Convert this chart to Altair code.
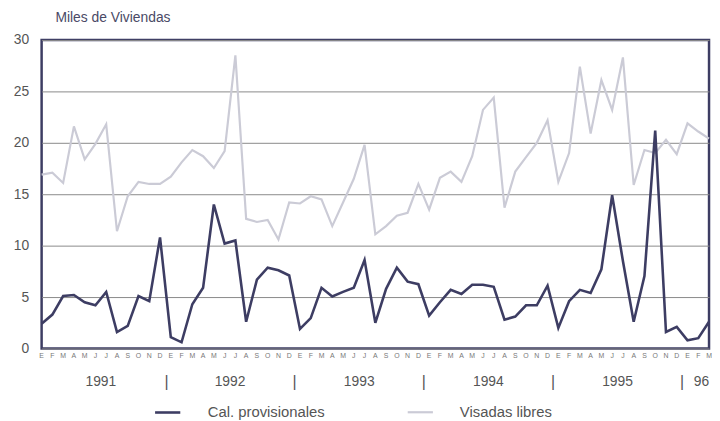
import altair as alt
import pandas as pd

month_letters = ["E", "F", "M", "A", "M", "J", "J", "A", "S", "O", "N", "D"]

cal_provisionales = [
    2.4, 3.3, 5.1, 5.2, 4.5, 4.2, 5.5, 1.6, 2.2, 5.1, 4.6, 10.8,
    1.1, 0.6, 4.3, 5.9, 14.0, 10.2, 10.5, 2.6, 6.7, 7.85, 7.6, 7.1,
    1.9, 2.95, 5.9, 5.05, 5.5, 5.9, 8.6, 2.5, 5.8, 7.85, 6.5, 6.25,
    3.2, 4.5, 5.7, 5.3, 6.2, 6.2, 6.0, 2.8, 3.1, 4.2, 4.2, 6.1,
    2.0, 4.6, 5.7, 5.4, 7.7, 14.9, 8.5, 2.6, 7.05, 21.2, 1.6, 2.1,
    0.8, 1.0, 2.6,
]

visadas_libres = [
    16.9, 17.1, 16.1, 21.6, 18.4, 19.9, 21.8, 11.4, 14.8, 16.2, 16.0, 16.0,
    16.7, 18.1, 19.3, 18.7, 17.55, 19.2, 28.5, 12.6, 12.3, 12.5, 10.6, 14.2,
    14.1, 14.8, 14.5, 11.9, 14.2, 16.5, 19.8, 11.1, 11.9, 12.9, 13.2, 16.0,
    13.5, 16.6, 17.2, 16.2, 18.7, 23.2, 24.4, 13.7, 17.2, 18.6, 20.0, 22.2,
    16.2, 19.0, 27.4, 20.9, 26.1, 23.2, 28.3, 15.9, 19.3, 19.0, 20.3, 18.9,
    21.9, 21.1, 20.4,
]

year_labels = ["1991", "1992", "1993", "1994", "1995", "96"]
year_pos = [5.5, 17.5, 29.5, 41.5, 53.5, 61.3]
sep_pos = [11.6, 23.5, 35.5, 47.5, 59.5]

series_names = ["Cal. provisionales", "Visadas libres"]
DARK = "#3d3d63"
LIGHT = "#cbcbd6"
FONT = "Liberation Sans"

n = len(cal_provisionales)
rows = []
for i, v in enumerate(visadas_libres):
    rows.append({"idx": i, "valor": v, "serie": series_names[1]})
for i, v in enumerate(cal_provisionales):
    rows.append({"idx": i, "valor": v, "serie": series_names[0]})
df = pd.DataFrame(rows)

W, H = 675, 312

x_scale = alt.Scale(domain=[0, n - 1], nice=False, zero=False)

lines = alt.Chart(df).mark_line(strokeJoin="miter").encode(
    x=alt.X("idx:Q", scale=x_scale, axis=None),
    y=alt.Y("valor:Q", scale=alt.Scale(domain=[0, 30], nice=False),
            axis=alt.Axis(values=[0, 5, 10, 15, 20, 25, 30], title=None,
                          ticks=False, domain=False, gridColor="#8a8a8a",
                          gridWidth=1, labelFontSize=14, labelColor="#555",
                          labelPadding=13, labelFont=FONT)),
    color=alt.Color("serie:N",
                    scale=alt.Scale(domain=series_names, range=[DARK, LIGHT]),
                    legend=alt.Legend(title=None, orient="none", direction="horizontal",
                                      legendX=113, legendY=362, symbolType="stroke",
                                      symbolSize=650, symbolStrokeWidth=2.5,
                                      labelFontSize=15, labelColor="#555",
                                      labelFont=FONT, columnPadding=78,
                                      labelOffset=26, padding=0)),
    strokeWidth=alt.StrokeWidth("serie:N",
                                scale=alt.Scale(domain=series_names, range=[2.6, 2.2]),
                                legend=None),
    detail="serie:N",
)

mdf = pd.DataFrame({"idx": list(range(n)),
                    "letra": [month_letters[i % 12] for i in range(n)]})
months = alt.Chart(mdf).mark_text(fontSize=7, color="#777", font=FONT,
                                  baseline="middle").encode(
    x=alt.X("idx:Q", scale=x_scale),
    y=alt.value(H + 8),
    text="letra:N",
)

ydf = pd.DataFrame({"pos": year_pos, "label": year_labels})
years = alt.Chart(ydf).mark_text(fontSize=14, color="#555", font=FONT,
                                 baseline="middle").encode(
    x=alt.X("pos:Q", scale=x_scale),
    y=alt.value(H + 34),
    text="label:N",
)

sdf = pd.DataFrame({"pos": sep_pos})
seps = alt.Chart(sdf).mark_text(fontSize=16, color="#555", font=FONT,
                                baseline="middle", text="|").encode(
    x=alt.X("pos:Q", scale=x_scale),
    y=alt.value(H + 34),
)

chart = alt.layer(lines, months, years, seps).properties(
    width=W, height=H,
    title=alt.TitleParams("Miles de Viviendas", anchor="start", frame="group",
                          dx=14, offset=8, fontSize=14, fontWeight="normal",
                          color="#4a4a66", font=FONT),
    autosize=alt.AutoSizeParams(type="none"),
    padding={"left": 34, "top": 30, "right": 3, "bottom": 71},
).configure_view(stroke="#3d3d63", strokeWidth=2.5)

chart.save("out.html", embed_options={"renderer": "svg", "actions": False})
